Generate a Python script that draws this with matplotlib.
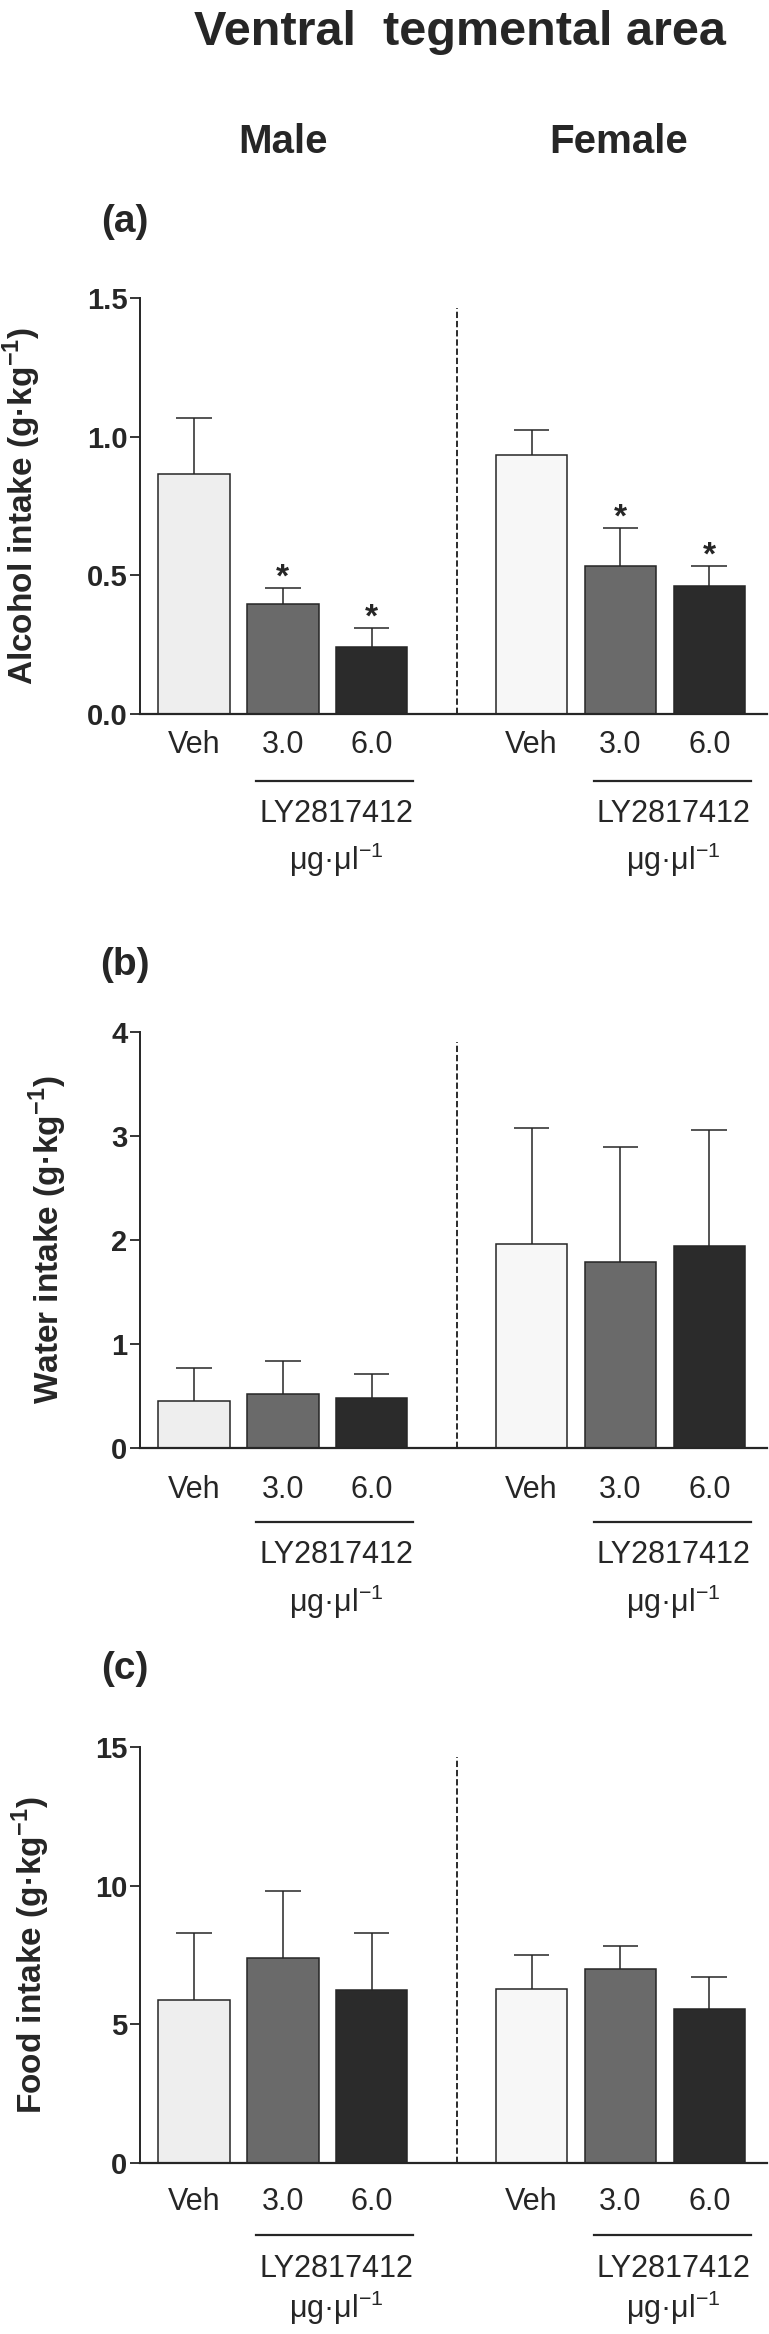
import matplotlib
matplotlib.use('Agg')
import matplotlib.pyplot as plt
import numpy as np

plt.rcParams['font.family'] = ['Liberation Sans', 'DejaVu Sans']
plt.rcParams['mathtext.fontset'] = 'custom'
plt.rcParams['mathtext.rm'] = 'Liberation Sans'
plt.rcParams['mathtext.bf'] = 'Liberation Sans:bold'

# data
dose_labels = ['Veh', '3.0', '6.0', 'Veh', '3.0', '6.0']
sex_labels = ['Male', 'Female']
x_pos = [0, 1, 2, 3.8, 4.8, 5.8]
bar_colors = ['#eeeeee', '#6a6a6a', '#2b2b2b', '#f7f7f7', '#6a6a6a', '#2b2b2b']

alcohol_mean = [0.867, 0.397, 0.242, 0.933, 0.535, 0.460]
alcohol_sem = [0.199, 0.057, 0.068, 0.091, 0.137, 0.075]
alcohol_sig = [False, True, True, False, True, True]

water_mean = [0.449, 0.516, 0.481, 1.958, 1.789, 1.940]
water_sem = [0.321, 0.324, 0.229, 1.119, 1.105, 1.115]

food_mean = [5.87, 7.38, 6.25, 6.28, 7.00, 5.54]
food_sem = [2.44, 2.41, 2.03, 1.21, 0.82, 1.17]

alcohol_ticks = [0.0, 0.5, 1.0, 1.5]
water_ticks = [0, 1, 2, 3, 4]
food_ticks = [0, 5, 10, 15]

DARK = '#262626'
W, H = 769, 2334
AX_LEFT, AX_RIGHT, AX_H = 140, 767, 416


def draw_panel(ax, means, sems, ticks, fmt, ylabel, ylab_x, sig=None, offs=(40, 73, 107, 155)):
    means = np.array(means)
    tops = means + np.array(sems)
    xs = np.array(x_pos)
    ax.bar(xs, means, width=0.805, color=bar_colors, edgecolor=DARK, linewidth=1.1, zorder=2)
    ax.vlines(xs, means, tops, color=DARK, lw=1.1, zorder=1)
    ax.hlines(tops, xs - 0.2, xs + 0.2, color=DARK, lw=1.1, zorder=1)
    if sig is not None:
        for x, t, s in zip(xs, tops, sig):
            if s:
                ax.annotate('*', (x, t), xytext=(0, 1), textcoords='offset points',
                            ha='center', va='baseline', fontsize=24, fontweight='bold', color=DARK)
    ymax = ticks[-1]
    # dashed divider between male and female groups
    ax.vlines(2.96, 0, 0.976 * ymax, color='#1a1a1a', lw=1.3, linestyles=(0, (3.5, 1.6)))
    ax.set_xlim(-0.608, 6.45)
    ax.set_ylim(0, ymax)
    ax.set_yticks(ticks)
    ax.set_yticklabels([fmt.format(t) for t in ticks], fontsize=21, fontweight='bold', color=DARK)
    ax.tick_params(axis='y', length=7, width=1.3, pad=2, color=DARK)
    ax.set_xticks([])
    for s in ['top', 'right']:
        ax.spines[s].set_visible(False)
    ax.spines['left'].set_bounds(0, ymax)
    ax.spines['left'].set_linewidth(1.4)
    ax.spines['bottom'].set_linewidth(1.6)
    ax.spines['left'].set_color(DARK)
    ax.spines['bottom'].set_color(DARK)
    ax.spines['bottom'].set_zorder(3)
    ax.text((ylab_x - AX_LEFT) / (AX_RIGHT - AX_LEFT), 0.5, ylabel, rotation=90,
            ha='center', va='center', transform=ax.transAxes,
            fontsize=24, fontweight='bold', color=DARK)

    tr = ax.get_xaxis_transform()
    o_tick, o_line, o_ly, o_mu = [o / AX_H for o in offs]
    for x, lab in zip(xs, dose_labels):
        ax.text(x, -o_tick, lab, transform=tr, ha='center', va='center', fontsize=22, color=DARK)
    for start in [1, 4.8]:
        ax.plot([start - 0.3, start + 1.47], [-o_line, -o_line], transform=tr,
                color=DARK, lw=1.6, clip_on=False)
        mid = start + 0.6
        ax.text(mid, -o_ly, 'LY2817412', transform=tr, ha='center', va='center',
                fontsize=22, color=DARK)
        ax.text(mid, -o_mu, r'μg·μl$^{-1}$', transform=tr, ha='center', va='center',
                fontsize=22, color=DARK)


fig = plt.figure(figsize=(W / 100, H / 100), dpi=100)

panels = [
    (714, alcohol_mean, alcohol_sem, alcohol_ticks, '{:.1f}',
     r'Alcohol intake (g·kg$^{\mathbf{-1}}$)', 22, alcohol_sig, (31, 67, 100, 146), '(a)', 232),
    (1448, water_mean, water_sem, water_ticks, '{:d}',
     r'Water intake (g·kg$^{\mathbf{-1}}$)', 48, None, (42, 74, 107, 154), '(b)', 975),
    (2163, food_mean, food_sem, food_ticks, '{:d}',
     r'Food intake (g·kg$^{\mathbf{-1}}$)', 31, None, (39, 72, 106, 145), '(c)', 1679),
]

for base, m, s, ticks, fmt, ylab, ylx, sig, offs, plab, plab_y in panels:
    ax = fig.add_axes([AX_LEFT / W, (H - base) / H, (AX_RIGHT - AX_LEFT) / W, AX_H / H])
    draw_panel(ax, m, s, ticks, fmt, ylab, ylx, sig, offs)
    fig.text(125 / W, 1 - plab_y / H, plab, ha='center', va='baseline',
             fontsize=28, fontweight='bold', color=DARK)

fig.text(460 / W, 1 - 45 / H, 'Ventral  tegmental area', ha='center', va='baseline',
         fontsize=35, fontweight='bold', color=DARK)
fig.text(283 / W, 1 - 153 / H, sex_labels[0], ha='center', va='baseline',
         fontsize=29, fontweight='bold', color=DARK)
fig.text(619 / W, 1 - 153 / H, sex_labels[1], ha='center', va='baseline',
         fontsize=29, fontweight='bold', color=DARK)

fig.savefig('out.png', dpi=100, facecolor='white')
